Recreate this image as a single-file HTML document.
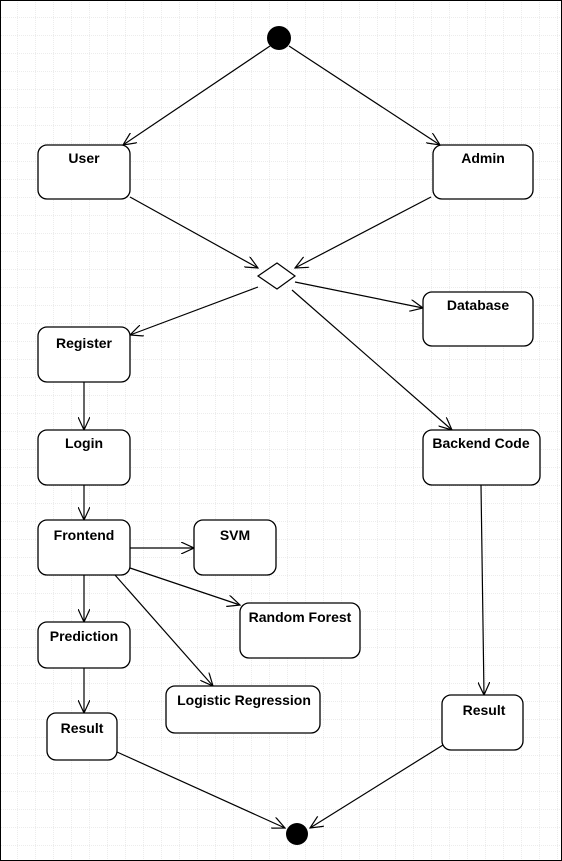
<!DOCTYPE html>
<html><head><style>
html,body{margin:0;padding:0;background:#fff}
svg{display:block}
text{font-family:"Liberation Sans",sans-serif;font-weight:bold;font-size:14px;fill:#000}
</style></head><body>
<svg width="562" height="861" viewBox="0 0 562 861" xmlns="http://www.w3.org/2000/svg">
<defs>
<pattern id="g" width="18" height="18" patternUnits="userSpaceOnUse">
<path d="M18 0V18H0" fill="none" stroke="#d8d8d8" stroke-width="1" stroke-dasharray="1,1"/>
</pattern>
<marker id="a" markerWidth="14" markerHeight="12" refX="13" refY="6" orient="auto" markerUnits="userSpaceOnUse">
<path d="M0,0 L13,6 L0,12" fill="none" stroke="#000" stroke-width="1.2"/>
</marker>
</defs>
<rect width="562" height="861" fill="#fff"/>
<rect width="562" height="861" fill="url(#g)"/>
<rect x="0.5" y="0.5" width="561" height="860" fill="none" stroke="#000" stroke-width="1"/>
<g stroke="#000" stroke-width="1.2" fill="none" marker-end="url(#a)">
<line x1="270" y1="46" x2="123" y2="145"/>
<line x1="289" y1="46" x2="440" y2="145"/>
<line x1="130" y1="197" x2="258" y2="268"/>
<line x1="431" y1="197" x2="295" y2="268"/>
<line x1="258" y1="287" x2="130" y2="335"/>
<line x1="295" y1="282" x2="423" y2="308"/>
<line x1="292" y1="290" x2="452" y2="430"/>
<line x1="84" y1="382" x2="84" y2="430"/>
<line x1="84" y1="485" x2="84" y2="520"/>
<line x1="130" y1="548" x2="194" y2="548"/>
<line x1="130" y1="568" x2="240" y2="605"/>
<line x1="115" y1="575" x2="213" y2="686"/>
<line x1="84" y1="575" x2="84" y2="622"/>
<line x1="84" y1="668" x2="84" y2="713"/>
<line x1="117" y1="752" x2="285" y2="828"/>
<line x1="481" y1="485" x2="484" y2="695"/>
<line x1="443" y1="745" x2="310" y2="828"/>
</g>
<circle cx="279" cy="38" r="12" fill="#000"/>
<circle cx="297" cy="834" r="11" fill="#000"/>
<polygon points="258,276 277,263 295,276 277,289" fill="#fff" stroke="#000" stroke-width="1.2"/>
<g fill="#fff" stroke="#000" stroke-width="1.3">
<rect x="38" y="145" width="92" height="54" rx="9"/>
<rect x="433" y="145" width="100" height="54" rx="9"/>
<rect x="423" y="292" width="110" height="54" rx="9"/>
<rect x="38" y="327" width="92" height="55" rx="9"/>
<rect x="38" y="430" width="92" height="55" rx="9"/>
<rect x="423" y="430" width="117" height="55" rx="9"/>
<rect x="38" y="520" width="92" height="55" rx="9"/>
<rect x="194" y="520" width="82" height="55" rx="9"/>
<rect x="240" y="603" width="120" height="55" rx="9"/>
<rect x="38" y="622" width="92" height="46" rx="9"/>
<rect x="166" y="686" width="154" height="47" rx="9"/>
<rect x="47" y="713" width="70" height="47" rx="9"/>
<rect x="442" y="695" width="81" height="55" rx="9"/>
</g>
<g text-anchor="middle">
<text x="84" y="163">User</text>
<text x="483" y="163">Admin</text>
<text x="478" y="310">Database</text>
<text x="84" y="348">Register</text>
<text x="84" y="448">Login</text>
<text x="481" y="448">Backend Code</text>
<text x="84" y="540">Frontend</text>
<text x="235" y="540">SVM</text>
<text x="300" y="622">Random Forest</text>
<text x="84" y="641">Prediction</text>
<text x="244" y="705">Logistic Regression</text>
<text x="82" y="733">Result</text>
<text x="484" y="715">Result</text>
</g>
</svg>
</body></html>
